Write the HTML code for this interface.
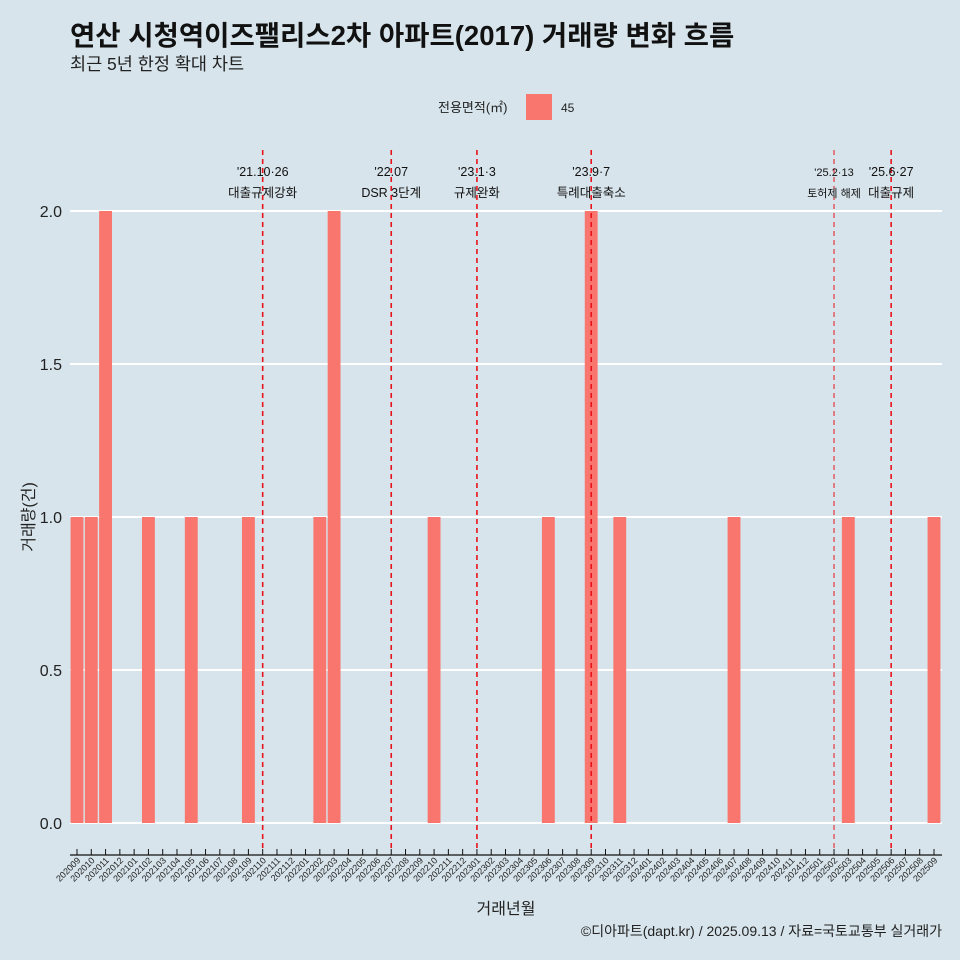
<!DOCTYPE html>
<html><head><meta charset="utf-8"><style>
body{margin:0;background:#d7e4eb;}
svg{display:block;font-family:"Liberation Sans","Noto Sans CJK KR",sans-serif;}
</style></head><body>
<svg id="chart" width="960" height="960">
<rect width="960" height="960" fill="#d7e4eb"/>
<text x="70" y="45" font-size="27.5" font-weight="bold" fill="#111">연산 시청역이즈팰리스2차 아파트(2017) 거래량 변화 흐름</text>
<text x="70" y="70" font-size="17.5" fill="#222">최근 5년 한정 확대 차트</text>
<text x="438" y="112" font-size="13" fill="#222">전용면적(㎡)</text>
<rect x="526" y="94" width="26" height="26" fill="#f8766d"/>
<text x="561" y="112" font-size="12" fill="#222">45</text>
<g id="grid"></g><g id="bars"></g><g id="events"></g><g id="xaxis"></g><g id="yaxis"></g>
<text x="506" y="914" font-size="16" text-anchor="middle" fill="#222">거래년월</text>
<text transform="translate(34,517) rotate(-90)" font-size="16" text-anchor="middle" fill="#222">거래량(건)</text>
<text x="942" y="936" font-size="14" text-anchor="end" fill="#222">©디아파트(dapt.kr) / 2025.09.13 / 자료=국토교통부 실거래가</text>
</svg>
<script>
const months = [];
for (let y = 2020, m = 9; !(y === 2025 && m === 10); m++) { if (m > 12) { m = 1; y++; } if (y === 2025 && m === 10) break; months.push(String(y) + String(m).padStart(2, '0')); }
const tradeMonths = ['202009','202010','202011','202102','202105','202109','202202','202203','202210','202306','202309','202311','202407','202503','202509'];
const tradeCounts = [1,1,2,1,1,1,1,2,1,1,2,1,1,1,1];
const yTicks = [0, 0.5, 1, 1.5, 2];
const yTickLabels = ['0.0','0.5','1.0','1.5','2.0'];
const eventMonths = ['202110','202207','202301','202309','202502','202506'];
const eventDates = ["'21.10·26","'22.07","'23.1·3","'23.9·7","'25.2·13","'25.6·27"];
const eventNames = ['대출규제강화','DSR 3단계','규제완화','특례대출축소','토허제 해제','대출규제'];

const NS = 'http://www.w3.org/2000/svg';
const x0 = 77, step = (934 - 77) / 60;
const xScale = i => x0 + i * step;
const yScale = v => 823 - v * 306;
function mk(tag, attrs, parent, text) {
  const el = document.createElementNS(NS, tag);
  for (const k in attrs) el.setAttribute(k, attrs[k]);
  if (text !== undefined) el.textContent = text;
  document.getElementById(parent).appendChild(el);
  return el;
}
yTicks.forEach((t, i) => {
  const g = mk('line', {x1: 70, x2: 942, y1: yScale(t), y2: yScale(t), stroke: '#fff', 'stroke-width': 2}, 'grid');
  
  
  const l = mk('text', {x: 62, y: yScale(t) + 6, 'font-size': 16, 'text-anchor': 'end', fill: '#222'}, 'yaxis', yTickLabels[i]);
  
  
});
const bw = step * 0.9;
tradeMonths.forEach((m, k) => {
  const i = months.indexOf(m);
  const b = mk('rect', {x: xScale(i) - bw / 2, y: yScale(tradeCounts[k]), width: bw, height: yScale(0) - yScale(tradeCounts[k]), fill: '#f8766d'}, 'bars');
  
  
});
const ax = mk('line', {x1: 70, x2: 942, y1: 855, y2: 855, stroke: '#111', 'stroke-width': 1.2}, 'xaxis');


months.forEach((m, i) => {
  const x = xScale(i);
  mk('line', {x1: x, x2: x, y1: 849, y2: 855, stroke: '#111'}, 'xaxis');
  const t = mk('text', {transform: `translate(${x + 4},861) rotate(-45)`, 'font-size': 9, 'text-anchor': 'end', fill: '#222'}, 'xaxis', m);
  
  
});
eventMonths.forEach((m, k) => {
  const x = xScale(months.indexOf(m));
  const thin = m === '202502';
  const l = mk('line', {x1: x, x2: x, y1: 150, y2: 850, stroke: '#e8141c', 'stroke-width': thin ? 1 : 1.6, 'stroke-dasharray': '5,4'}, 'events');
  
  
  const fs = thin ? 11 : 12.5;
  const d = mk('text', {x: x, y: 176, 'font-size': fs, 'text-anchor': 'middle', fill: '#111'}, 'events', eventDates[k]);
  
  
  const n = mk('text', {x: x, y: 197, 'font-size': fs, 'text-anchor': 'middle', fill: '#111'}, 'events', eventNames[k]);
  
  
});
</script>
</body></html>
